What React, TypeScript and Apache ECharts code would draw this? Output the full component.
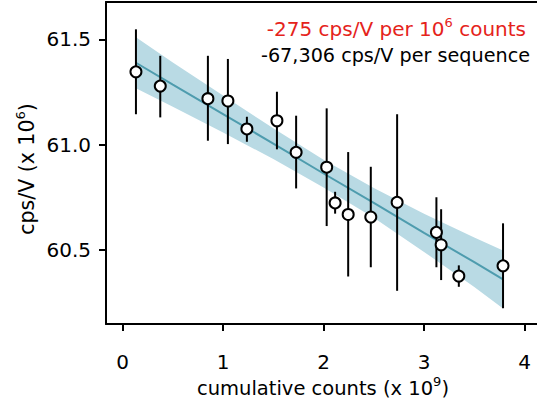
import React, { useEffect, useRef } from "react";
import * as echarts from "echarts";

// measured points (cumulative counts x10^9, cps/V x10^6)
const xVals = [0.133, 0.375, 0.849, 1.048, 1.237, 1.536, 1.727, 2.031, 2.115, 2.245, 2.47, 2.732, 3.123, 3.17, 3.346, 3.786];
const yVals = [61.346, 61.278, 61.218, 61.207, 61.074, 61.113, 60.963, 60.892, 60.722, 60.667, 60.655, 60.725, 60.582, 60.523, 60.374, 60.423];
const yHigh = [61.548, 61.422, 61.422, 61.407, 61.132, 61.251, 61.137, 61.172, 60.775, 60.964, 60.894, 61.144, 60.749, 60.692, 60.425, 60.625];
const yLow = [61.144, 61.129, 61.018, 61.002, 61.013, 60.977, 60.791, 60.612, 60.671, 60.372, 60.416, 60.304, 60.416, 60.355, 60.323, 60.221];

// fit line and confidence band
const fitX = [0.133, 0.5, 1.0, 1.5, 2.0, 2.5, 3.0, 3.5, 3.786];
const fitY = [61.389, 61.285, 61.145, 61.004, 60.862, 60.722, 60.58, 60.44, 60.358];
const bandUpper = [61.51, 61.39, 61.233, 61.077, 60.928, 60.793, 60.671, 60.558, 60.496];
const bandLower = [61.268, 61.18, 61.057, 60.931, 60.796, 60.651, 60.489, 60.322, 60.22];

const xTicks = [0, 1, 2, 3, 4];
const yTicks = [60.5, 61.0, 61.5];

const FONT = "DejaVu Sans";

export default function App() {
  const ref = useRef<HTMLDivElement>(null);
  useEffect(() => {
    if (!ref.current) return;
    const chart = echarts.init(ref.current, null, { renderer: "svg" });
    const axisLineStyle = { color: "#000", width: 2 };
    const supStyle = (fill: string) => ({
      sup: { fontSize: 13, fontFamily: FONT, fill, verticalAlign: "top", lineHeight: 14 },
    });
    const option: any = {
      animation: false,
      backgroundColor: "#fff",
      grid: { left: 106, top: 2, right: 0, bottom: 84, containLabel: false },
      xAxis: [
        {
          type: "value",
          position: "bottom",
          min: -0.165,
          max: 4.124,
          axisLine: { show: true, onZero: false, lineStyle: axisLineStyle },
          axisTick: { show: true, inside: false, length: 7, lineStyle: { color: "#000", width: 2 }, customValues: xTicks },
          axisLabel: { customValues: xTicks, margin: 28, fontSize: 20, color: "#000", fontFamily: FONT },
          splitLine: { show: false },
        },
        {
          type: "value",
          position: "top",
          min: -0.165,
          max: 4.124,
          axisLine: { show: true, onZero: false, lineStyle: axisLineStyle },
          axisTick: { show: false },
          axisLabel: { show: false },
          splitLine: { show: false },
        },
      ],
      yAxis: {
        type: "value",
        min: 60.146,
        max: 61.678,
        axisLine: { show: true, onZero: false, lineStyle: axisLineStyle },
        axisTick: { show: true, inside: false, length: 7, lineStyle: { color: "#000", width: 2 }, customValues: yTicks },
        axisLabel: {
          customValues: yTicks,
          margin: 15,
          fontSize: 20,
          color: "#000",
          fontFamily: FONT,
          formatter: (v: number) => v.toFixed(1),
        },
        splitLine: { show: false },
      },
      series: [
        {
          type: "custom",
          data: fitX.map((x, i) => [x, bandLower[i], bandUpper[i]]),
          encode: { x: 0, y: [1, 2] },
          silent: true,
          z: 1,
          renderItem: (params: any, api: any) => {
            if (params.dataIndex !== 0) return null;
            const upper = fitX.map((x, i) => api.coord([x, bandUpper[i]]));
            const lower = fitX.map((x, i) => api.coord([x, bandLower[i]])).reverse();
            return {
              type: "polygon",
              shape: { points: upper.concat(lower) },
              style: { fill: "#b9dae4", stroke: "none" },
            };
          },
        },
        {
          type: "line",
          data: fitX.map((x, i) => [x, fitY[i]]),
          symbol: "none",
          lineStyle: { color: "#4e9cae", width: 2 },
          z: 2,
        },
        {
          type: "custom",
          data: xVals.map((x, i) => [x, yLow[i], yHigh[i]]),
          encode: { x: 0, y: [1, 2] },
          renderItem: (params: any, api: any) => {
            const p1 = api.coord([api.value(0), api.value(1)]);
            const p2 = api.coord([api.value(0), api.value(2)]);
            return {
              type: "line",
              shape: { x1: p1[0], y1: p1[1], x2: p2[0], y2: p2[1] },
              style: { stroke: "#000", lineWidth: 2 },
            };
          },
          z: 3,
        },
        {
          type: "scatter",
          data: xVals.map((x, i) => [x, yVals[i]]),
          symbol: "circle",
          symbolSize: 11,
          itemStyle: { color: "#fff", borderColor: "#000", borderWidth: 2, opacity: 1 },
          z: 4,
        },
      ],
      graphic: [
        {
          type: "text",
          x: 526,
          y: 29,
          style: {
            text: "-275 cps/V per 10{sup|6} counts",
            fill: "#e5231b",
            fontSize: 20,
            fontFamily: FONT,
            align: "right",
            verticalAlign: "middle",
            lineHeight: 26,
            rich: supStyle("#e5231b"),
          },
        },
        {
          type: "text",
          x: 530,
          y: 55,
          style: {
            text: "-67,306 cps/V per sequence",
            fill: "#000",
            fontSize: 19.2,
            fontFamily: FONT,
            align: "right",
            verticalAlign: "middle",
          },
        },
        {
          type: "text",
          x: 323,
          y: 388,
          style: {
            text: "cumulative counts (x 10{sup|9})",
            fill: "#000",
            fontSize: 19.5,
            fontFamily: FONT,
            align: "center",
            verticalAlign: "middle",
            lineHeight: 26,
            rich: supStyle("#000"),
          },
        },
        {
          type: "text",
          x: 27,
          y: 169,
          rotation: Math.PI / 2,
          style: {
            text: "cps/V (x 10{sup|6})",
            fill: "#000",
            fontSize: 20.5,
            fontFamily: FONT,
            align: "center",
            verticalAlign: "middle",
            lineHeight: 26,
            rich: supStyle("#000"),
          },
        },
      ],
    };
    chart.setOption(option);
    return () => chart.dispose();
  }, []);
  return (
    <div
      ref={ref}
      style={{ position: "absolute", left: 0, top: 0, width: 537, height: 408, background: "#fff" }}
    />
  );
}
